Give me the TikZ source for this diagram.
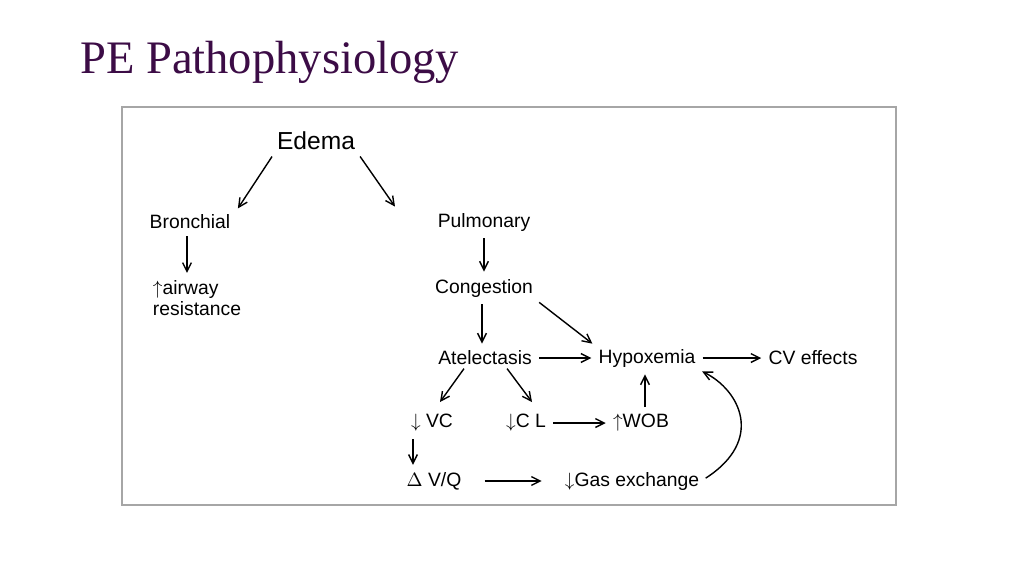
\documentclass[tikz,border=0pt]{standalone}
\usepackage{fontspec}
\setmainfont{Liberation Sans}
\newfontfamily\titlefont{Liberation Serif}
\usetikzlibrary{arrows.meta}
\definecolor{titlepurple}{RGB}{60,12,70}
\begin{document}
\begin{tikzpicture}[x=0.02cm,y=-0.02cm,
    lbl/.style={inner sep=1pt, font=\fontsize{11}{12}\selectfont},
    arr/.style={-{Straight Barb[length=5pt,width=5pt]}, thick, shorten <=3pt, shorten >=3pt}]
    \useasboundingbox (0,0) rectangle (1024,576);
    \node[anchor=west, text=titlepurple, font=\titlefont\fontsize{26.5}{30}\selectfont] (title) at (74,62) {PE Pathophysiology};
    \draw[gray!70, line width=1pt] (122,107) rectangle (896,505);

    % nodes
    \node[lbl, font=\fontsize{14}{16}\selectfont] (edema) at (316,141) {Edema};
    \node[lbl] (bron) at (190,222) {Bronchial};
    \node[lbl] (pulm) at (484,222) {Pulmonary};
    \node[lbl, align=left] (airway) at (197,298) {$\uparrow$airway\\resistance};
    \node[lbl] (cong) at (484,288) {Congestion};
    \node[lbl] (atel) at (485,358) {Atelectasis};
    \node[lbl] (hypox) at (647,358) {Hypoxemia};
    \node[lbl] (cv) at (813,358) {CV effects};
    \node[lbl] (vc) at (432,423) {$\downarrow$ VC};
    \node[lbl] (cl) at (526,423) {$\downarrow$C L};
    \node[lbl] (wob) at (641,423) {$\uparrow$WOB};
    \node[lbl] (vq) at (434,481) {$\Delta$ V/Q};
    \node[lbl] (gas) at (632,481) {$\downarrow$Gas exchange};
    \coordinate (vctop) at (440,402);
    \coordinate (cltop) at (532,402);

    % connectors
    \draw[arr] (edema.south west) -- (bron.north east -| 235,0);
    \draw[arr] (edema.south east) -- (pulm.north west -| 398,0);
    \draw[arr] (bron.south -| 187,0) -- (airway.north -| 187,0);
    \draw[arr] (pulm) -- (cong);
    \draw[arr] (cong.south -| 482,0) -- (atel.north -| 482,0);
    \draw[arr] (cong.south east) -- (hypox.north west);
    \draw[arr] (atel) -- (hypox);
    \draw[arr] (hypox) -- (cv);
    \draw[arr, shorten <=1pt, shorten >=0pt] (atel.south -| 465,0) -- (vctop);
    \draw[arr, shorten <=1pt, shorten >=0pt] (atel.south -| 506,0) -- (cltop);
    \draw[arr] (vc.south -| 413,0) -- (vq.north -| 413,0);
    \draw[arr] (cl) -- (wob);
    \draw[arr] (wob.north -| 645,0) -- (hypox.south -| 645,0);
    \draw[arr, shorten <=12pt, shorten >=12pt] (vq) -- (gas);
    \draw[arr] (gas.east) .. controls (765,440) and (740,390) .. (hypox.south east);
\end{tikzpicture}
\end{document}
